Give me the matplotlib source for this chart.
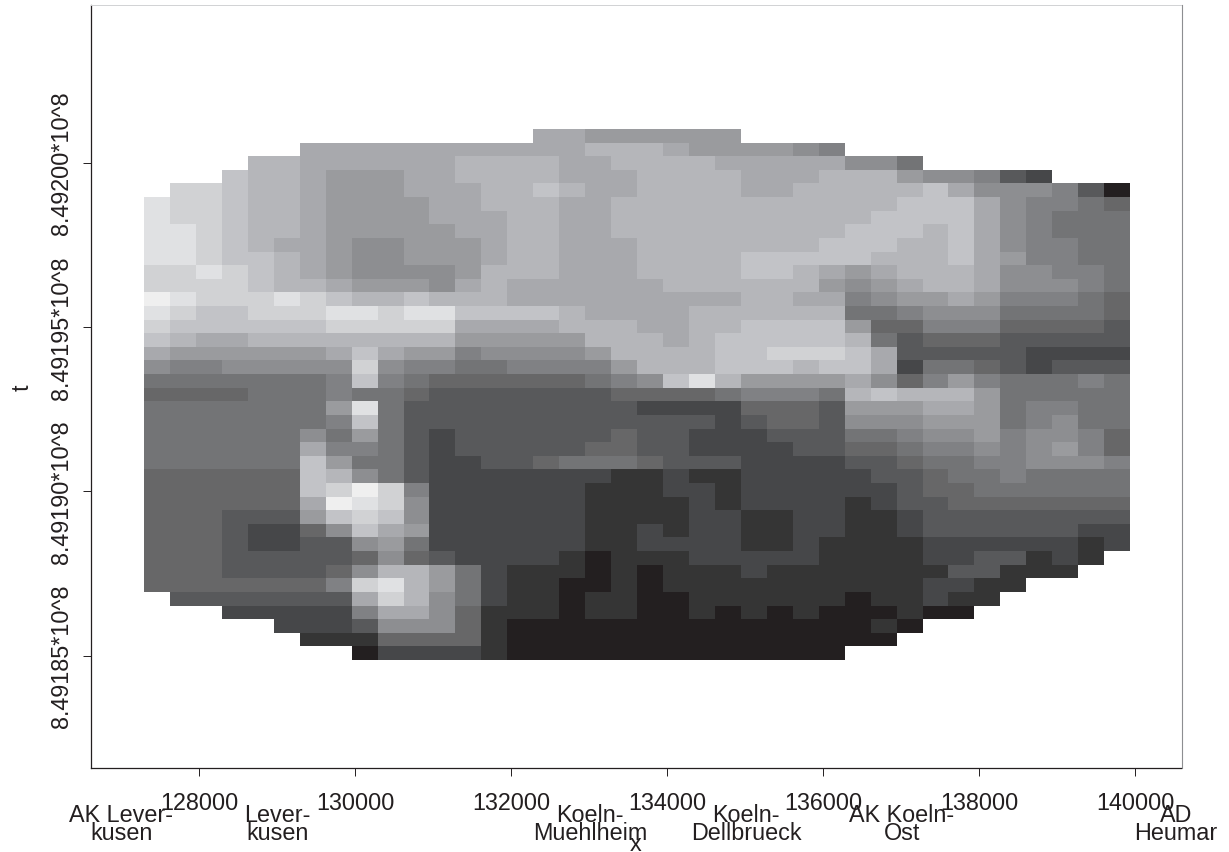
import numpy as np
import matplotlib
matplotlib.use('Agg')
import matplotlib.pyplot as plt
from matplotlib.colors import ListedColormap
from matplotlib.transforms import blended_transform_factory

plt.rcParams['font.family'] = ['Liberation Sans', 'DejaVu Sans']
ink = '#231f20'

# grey steps of the picture, darkest first
greys = ['#231f20', '#353535', '#464749', '#58595b', '#676768', '#737476', '#808184', '#8d8e91',
         '#9a9b9e', '#a8a9ad', '#b5b6ba', '#c2c3c7', '#d1d2d4', '#e0e1e3', '#efefef']

# grid of the cells
x_start = 127295
x_step = 332.7
t_start = 849201025
t_step = -414.3

# one line per row from the top, count + level (hex), '.' = no data
rows = [
    "15. 29 68 15.",
    "6. 119 3a 19 48 17 16 11.",
    "4. 2a 69 4a 29 4a 59 27 15 8.",
    "3. 1b 2a 19 38 29 4a 39 4a 39 3a 18 27 16 13 12 3.",
    "1. 2c 1b 2a 19 38 39 2a 1b 1a 29 4a 29 5a 1b 19 37 16 13 10",
    "1d 2c 1b 2a 19 48 29 3a 29 11a 3b 19 17 26 15 14",
    "1d 2c 1b 2a 19 48 39 2a 29 10a 4b 19 17 16 35",
    "2d 1c 1b 2a 19 58 29 2a 29 9a 3b 1a 1b 19 17 16 35",
    "2d 1c 1b 1a 29 18 27 38 19 2a 39 7a 3b 2a 1b 19 17 26 25",
    "2d 1c 2b 1a 19 18 27 38 19 2a 39 4a 5b 3a 1b 19 18 26 25",
    "2c 1d 1c 1b 1a 19 18 47 18 3a 39 4a 2b 1a 19 18 19 3a 19 27 26 15",
    "4c 1b 2a 19 38 17 19 1a 69 6a 18 17 18 19 2a 19 37 16 15",
    "1e 1d 3c 1d 1c 1b 2a 1b 3a 99 2a 29 16 17 28 19 18 36 15 14",
    "1d 1c 2b 3c 2d 1c 2d 4b 1a 49 6a 25 16 37 45 14",
    "1c 6b 5c 49 3a 29 2a 4b 18 24 36 44 13",
    "1b 1a 29 8a 58 3a 19 1a 5b 1a 15 13 34 53",
    "19 68 19 1b 19 28 16 47 18 4a 2b 3c 1b 19 53 42",
    "17 26 57 1c 17 26 25 46 18 3a 3b 1a 2b 19 12 25 14 13 12 33",
    "75 16 1b 16 15 64 15 16 17 1b 1d 1a 48 19 17 14 16 18 16 35 16 15",
    "44 35 16 25 14 73 44 15 26 16 15 1a 1b 3a 18 55",
    "75 18 1d 15 93 42 34 13 38 29 18 15 26 25",
    "75 16 1b 15 123 12 13 24 13 37 38 15 16 17 25",
    "65 17 15 18 15 13 12 63 14 23 32 33 25 16 27 18 16 27 16 14",
    "65 19 26 15 13 12 53 24 23 42 23 24 15 26 17 16 17 18 16 14",
    "65 1b 18 25 13 22 23 14 35 14 33 42 23 14 25 26 37 16",
    "64 1b 1a 17 15 13 72 21 12 21 52 23 14 25 16 45",
    "64 1b 1c 1e 1c 16 62 31 22 11 62 13 24 65",
    "64 19 1e 1d 1c 17 62 41 12 11 42 11 12 23 74",
    "34 33 18 1b 1c 1b 17 62 41 22 21 22 21 12 83",
    "34 13 22 14 17 1b 19 18 62 21 12 11 22 21 22 21 12 63 22",
    "34 13 22 23 17 18 15 62 21 42 21 12 41 62 11 12",
    "34 53 14 17 14 13 42 11 10 31 52 41 22 23 11 12 11 1.",
    "34 43 14 17 2a 18 15 12 31 10 11 10 31 12 71 23 31 2.",
    "74 16 1c 1d 1a 18 15 12 21 20 11 10 101 22 21 4.",
    "1. 73 19 1c 1a 17 15 12 21 10 21 20 61 10 21 12 21 5.",
    "3. 52 16 29 17 14 31 10 21 20 11 10 11 10 11 30 11 20 6.",
    "5. 32 13 37 14 11 140 11 10 8.",
    "6. 31 44 11 150 9.",
    "8. 10 42 11 130 11.",
]

x_ticks = [128000, 130000, 132000, 134000, 136000, 138000, 140000]
t_ticks = [849185000, 849190000, 849195000, 849200000]
t_labels = ['8.49185*10^8', '8.49190*10^8', '8.49195*10^8', '8.49200*10^8']

stations = ['AK Lever-\nkusen', 'Lever-\nkusen', 'Koeln-\nMuehlheim', 'Koeln-\nDellbrueck', 'AK Koeln-\nOst', 'AD\nHeumar']
station_x = [127006, 129008, 133013, 135013, 137013, 140526]


def decode(line):
    out = []
    for tok in line.split():
        n = int(tok[:-1])
        out += [np.nan if tok[-1] == '.' else int(tok[-1], 16)] * n
    return out


z = np.array([decode(r) for r in rows], dtype=float)
x_edges = x_start + x_step * np.arange(z.shape[1] + 1)
t_edges = t_start + t_step * np.arange(z.shape[0] + 1)

fig = plt.figure(figsize=(12.29, 8.53), dpi=100)
ax = fig.add_axes([91.3 / 1229, (853 - 769.3) / 853, (1181.5 - 91.3) / 1229, (769.3 - 6.3) / 853])
ax.pcolormesh(x_edges, t_edges, np.ma.masked_invalid(z), cmap=ListedColormap(greys), vmin=-0.5, vmax=14.5)

ax.set_xlim(128000 + (91.3 - 199) / 0.078, 128000 + (1181.5 - 199) / 0.078)
ax.set_ylim(849185000 - (769.3 - 656.6) * 30.43, 849185000 + (656.6 - 6.3) * 30.43)

ax.set_xticks(x_ticks)
ax.set_xticklabels([str(v) for v in x_ticks], fontsize=16.8, color=ink)
ax.set_yticks(t_ticks)
ax.set_yticklabels(t_labels, fontsize=16.8, color=ink, rotation=90, va='center')
ax.tick_params(axis='x', length=5.8, width=0.7, color=ink, pad=10.4)
ax.tick_params(axis='y', length=5.8, width=0.7, color=ink, pad=7.7)

for s in ['left', 'bottom']:
    ax.spines[s].set_color(ink)
    ax.spines[s].set_linewidth(0.9)
ax.spines['top'].set_color('#d1d2d4')
ax.spines['top'].set_linewidth(0.7)
ax.spines['right'].set_color('#8d8e91')
ax.spines['right'].set_linewidth(0.8)

# exit names under the axis
name_trans = blended_transform_factory(ax.transData, fig.transFigure)
for name, xpos in zip(stations, station_x):
    ax.text(xpos, (853 - 804) / 853, name, transform=name_trans,
            ha='center', va='top', fontsize=16.8, color=ink, linespacing=0.72)

fig.text(636 / 1229, (853 - 845) / 853, 'x', ha='center', va='center', fontsize=16.8, color=ink)
fig.text(22 / 1229, (853 - 388) / 853, 't', ha='center', va='center', rotation=90, fontsize=16.8, color=ink)

plt.savefig('out.png', dpi=100)
